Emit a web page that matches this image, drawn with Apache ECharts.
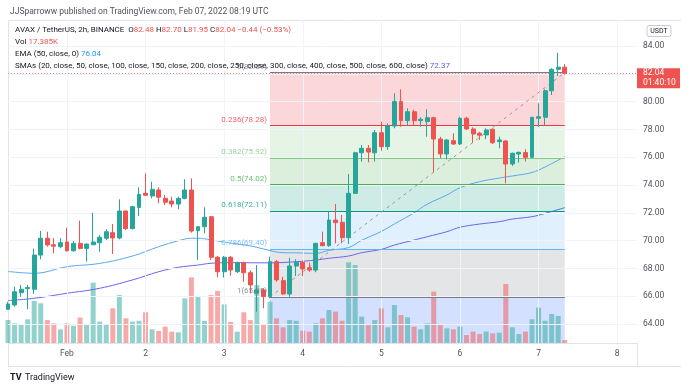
<!DOCTYPE html>
<html><head><meta charset="utf-8">
<script src="https://cdn.jsdelivr.net/npm/echarts@6/dist/echarts.min.js"></script>
<style>html,body{margin:0;padding:0;background:#fff}#c{width:688px;height:388px}</style>
</head><body><div id="c"></div>
<script>
// candle k has index firstIndex + k (2h bars; index 0 = Feb 1 00:00)
const firstIndex = -9;
const opens  = [65.06,65.37,66.25,66.55,66.50,68.96,70.17,69.70,69.56,69.90,69.27,69.80,69.44,69.70,69.85,70.17,70.57,70.19,72.13,70.86,72.39,73.40,73.21,73.64,73.04,72.85,72.63,73.04,73.64,70.71,71.00,71.72,68.80,67.76,68.80,67.76,68.41,67.69,66.21,66.45,65.97,68.48,67.12,66.16,68.17,68.44,68.05,67.88,69.85,69.63,71.48,71.32,70.21,73.40,76.32,76.64,76.32,77.76,76.76,78.24,80.00,78.63,79.27,78.63,78.56,78.84,77.31,76.23,77.19,76.95,78.80,78.03,77.72,77.60,78.01,77.12,77.17,75.51,76.23,76.33,75.99,78.80,78.87,80.78,82.32,82.48];
const highs  = [65.60,66.68,66.81,66.81,69.42,70.69,70.64,70.17,70.17,70.93,69.97,71.43,69.80,72.01,70.40,70.81,71.19,72.97,72.15,72.49,73.83,74.84,74.24,73.83,73.28,73.16,73.16,74.41,74.48,71.05,72.40,71.75,68.89,68.89,68.89,68.48,68.48,67.88,68.24,66.57,68.84,68.60,67.40,68.77,68.65,68.56,68.41,69.85,70.64,72.08,72.63,71.84,74.79,76.40,76.88,76.88,77.96,78.55,78.44,80.60,80.88,79.52,79.41,78.87,79.45,78.91,77.47,77.29,77.72,78.91,78.91,78.15,77.83,78.08,78.08,77.47,77.24,76.33,76.40,76.57,78.91,79.88,80.88,82.40,83.52,82.70];
const lows   = [65.00,65.25,65.96,65.06,66.16,68.65,69.56,69.09,69.44,69.20,69.20,69.37,68.48,69.68,69.20,70.04,69.04,70.09,70.76,70.81,71.77,73.26,73.04,72.68,72.56,72.40,72.25,72.97,70.57,68.60,70.53,68.60,67.36,67.34,67.48,67.68,67.04,66.21,64.88,65.13,65.85,67.04,66.09,65.96,67.45,67.45,67.76,67.72,69.61,69.56,69.80,69.80,69.76,73.35,75.68,75.63,75.68,76.47,76.52,78.08,78.19,78.24,78.24,78.19,77.47,74.92,75.92,75.85,76.88,76.88,77.96,77.04,77.24,77.29,76.95,76.64,74.12,75.37,75.61,75.68,75.92,78.19,78.32,80.47,81.84,81.95];
const closes = [65.44,66.32,66.50,66.62,68.96,70.17,69.69,69.60,69.85,69.27,69.80,69.44,69.75,69.90,70.24,70.64,70.19,72.13,70.86,72.44,73.33,73.26,73.69,73.12,72.76,72.63,73.04,73.64,70.69,71.00,71.68,68.80,67.76,68.80,67.88,68.41,67.69,66.81,66.45,65.97,68.48,67.17,66.16,68.17,68.44,67.96,67.88,69.80,69.63,71.48,71.29,70.21,73.40,76.32,76.64,76.37,77.76,76.76,78.24,80.00,78.63,79.27,78.63,78.73,78.84,77.31,76.23,77.24,76.95,78.80,78.03,77.67,77.58,77.96,77.04,77.24,75.51,76.28,76.35,75.99,78.87,78.91,80.78,82.32,82.48,82.04];
// volume in thousands
const volumes = [133,114,104,137,244,230,133,114,79,114,100,147,104,350,124,110,201,278,143,124,129,178,79,70,95,66,62,259,381,273,129,278,302,224,122,66,178,133,336,104,240,143,91,133,129,71,66,114,143,191,182,129,468,452,153,104,133,201,91,220,162,149,95,79,114,298,104,85,79,95,46,66,52,66,56,60,342,91,52,66,137,205,129,168,157,17.385];
const emaPoints = [[-9,67.78],[-5,67.65],[0,68.12],[5,68.36],[10,68.89],[14,69.56],[17,69.99],[19,70.17],[20,70.17],[22,70.05],[25,69.82],[28,69.62],[30,69.40],[33,69.13],[35,69.12],[38,69.08],[40,69.30],[43,69.50],[45,70.02],[48,70.66],[50,71.20],[53,72.00],[55,72.62],[58,73.28],[60,73.80],[63,74.24],[66,74.50],[68,74.65],[71,74.90],[73,75.30],[76,76.04]];
const smaPoints = [[-9,65.68],[-5,65.85],[0,66.21],[5,66.57],[10,67.17],[14,67.76],[17,68.08],[20,68.24],[22,68.37],[25,68.41],[31,68.40],[35,68.48],[38,68.60],[40,68.73],[43,68.89],[45,69.13],[48,69.37],[50,69.68],[53,70.04],[55,70.28],[58,70.64],[60,70.96],[63,71.19],[66,71.36],[68,71.55],[71,71.72],[73,71.96],[76,72.37]];
const priceTicks = [64,66,68,70,72,74,76,78,80,82,84];
const dayTicks = [0,12,24,36,48,60,72,84];
const dayLabels = ['Feb','2','3','4','5','6','7','8'];
const fibLevels = ['0','0.236','0.382','0.5','0.618','0.786','1','1.618'];
const fibPrices = [82.09,78.28,75.92,74.02,72.11,69.40,65.95,55.98];
const fibColors = ['#787b86','#f23645','#81c784','#4caf50','#089981','#64b5f6','#787b86','#2962ff'];
const fibStart = 31, fibEnd = 76;
const lastPrice = 82.04;
const yMin = 62.633, yMax = 85.871;
const xMin = -9.0, xMax = 87.03;

const UP = '#26a69a', DOWN = '#ef5350';
const candleData = opens.map((o, k) => [firstIndex + k, o, closes[k], lows[k], highs[k]]);
const volData = volumes.map((v, k) => ({
  value: [firstIndex + k, v],
  itemStyle: { color: closes[k] >= opens[k] ? 'rgba(38,166,154,0.5)' : 'rgba(239,83,80,0.5)' }
}));

function hexA(h, a) {
  const n = parseInt(h.slice(1), 16);
  return 'rgba(' + (n >> 16) + ',' + ((n >> 8) & 255) + ',' + (n & 255) + ',' + a + ')';
}
const zones = [];
for (let k = 0; k < fibPrices.length - 1; k++) {
  zones.push([{ coord: [fibStart, fibPrices[k]], itemStyle: { color: hexA(fibColors[k + 1], 0.2) } },
              { coord: [fibEnd, Math.max(fibPrices[k + 1], yMin)] }]);
}
const fibLines = [];
for (let k = 0; k < 7; k++) {
  fibLines.push([{ coord: [fibStart, fibPrices[k]], lineStyle: { color: fibColors[k], width: 1, type: 'solid' } },
                 { coord: [fibEnd, fibPrices[k]] }]);
}
fibLines.push([{ coord: [fibStart, fibPrices[6]], lineStyle: { color: '#9598a1', width: 1, type: [3, 4] } },
               { coord: [fibEnd, fibPrices[0]] }]);
const fibLabelData = [];
for (let k = 0; k < 7; k++) {
  fibLabelData.push({ value: [fibStart, fibPrices[k]], name: fibLevels[k] + '(' + fibPrices[k].toFixed(2) + ')',
    label: { color: fibColors[k] } });
}
const gridLines = dayTicks.map(d => ({ xAxis: d })).concat(priceTicks.map(p => ({ yAxis: p })));

const FONT = 'Roboto, "Noto Sans", sans-serif';
const chart = echarts.init(document.getElementById('c'), null, { renderer: 'canvas' });
const option = {
  animation: false,
  backgroundColor: '#ffffff',
  grid: { left: 8, right: 51, top: 20, bottom: 45 },
  xAxis: [{
    type: 'value', min: xMin, max: xMax,
    axisLine: { show: true, lineStyle: { color: '#e0e3eb' } },
    axisTick: { show: false },
    splitLine: { show: false },
    axisLabel: { customValues: dayTicks, color: '#50535e', fontSize: 8.5, fontFamily: FONT, margin: 6,
      formatter: v => dayLabels[dayTicks.indexOf(v)] }
  }],
  yAxis: [{
    type: 'value', position: 'right', min: yMin, max: yMax,
    axisLine: { show: true, lineStyle: { color: '#e0e3eb' } },
    axisTick: { show: false },
    splitLine: { show: false },
    axisLabel: { customValues: priceTicks, color: '#50535e', fontSize: 8.5, fontFamily: FONT, margin: 6,
      formatter: v => v.toFixed(2) }
  }, {
    type: 'value', min: 0, max: 1873, show: false
  }],
  series: [
    { type: 'line', name: 'grid', data: [], z: 0, silent: true,
      markLine: { silent: true, symbol: 'none', label: { show: false },
        lineStyle: { color: '#f0f3fa', width: 1, type: 'solid' }, data: gridLines } },
    { type: 'scatter', name: 'fibZones', data: [], z: 1, silent: true,
      markArea: { silent: true, data: zones } },
    { type: 'bar', name: 'Volume', yAxisIndex: 1, data: volData, barWidth: 5, z: 2 },
    { type: 'line', name: 'fibLines', data: [], z: 3, silent: true,
      markLine: { silent: true, symbol: 'none', label: { show: false }, data: fibLines } },
    { type: 'line', name: 'EMA', data: emaPoints, smooth: 0.4, showSymbol: false, z: 4,
      lineStyle: { color: '#5aa8f0', width: 1 } },
    { type: 'line', name: 'SMA', data: smaPoints, smooth: 0.4, showSymbol: false, z: 4,
      lineStyle: { color: '#6a64f2', width: 1 } },
    { type: 'line', name: 'priceLine', data: [], z: 4, silent: true, color: '#f08080',
      itemStyle: { color: '#f08080' }, lineStyle: { color: '#f08080' },
      markLine: { silent: true, symbol: 'none', label: { show: false },
        lineStyle: { color: '#f08080', type: [1, 2], width: 1, opacity: 1 },
        data: [{ yAxis: lastPrice }] } },
    { type: 'candlestick', name: 'AVAX', data: candleData, encode: { x: 0, y: [1, 2, 3, 4] }, barWidth: 4.4, z: 5,
      itemStyle: { color: UP, color0: DOWN, borderColor: UP, borderColor0: DOWN, borderWidth: 1 } },
    { type: 'scatter', name: 'fibLabels', data: fibLabelData, symbolSize: 0, z: 6, silent: true,
      label: { show: true, position: 'left', distance: 3, offset: [0, -6], fontSize: 8, fontFamily: FONT,
        formatter: p => p.name } }
  ],
  graphic: []
};
chart.setOption(option);

const py = chart.convertToPixel({ yAxisIndex: 0 }, lastPrice);
chart.setOption({ graphic: [
  { type: 'line', shape: { x1: 8.5, y1: 20, x2: 8.5, y2: 366 }, style: { stroke: '#e0e3eb' } },
  { type: 'line', shape: { x1: 8, y1: 20.5, x2: 681, y2: 20.5 }, style: { stroke: '#e0e3eb' } },
  { type: 'line', shape: { x1: 8, y1: 366.5, x2: 681, y2: 366.5 }, style: { stroke: '#e0e3eb' } },
  { type: 'line', shape: { x1: 637.5, y1: 343, x2: 637.5, y2: 366 }, style: { stroke: '#e0e3eb' } },
  { type: 'text', x: 10, y: 12, style: { text: 'JJSparroww published on TradingView.com, Feb 07, 2022 08:19 UTC',
      fill: '#50535e', font: '8.5px Roboto, sans-serif', verticalAlign: 'middle' } },
  { type: 'text', x: 15, y: 30, z: 100, style: { verticalAlign: 'middle', font: '8px Roboto, sans-serif',
      text: '{d|AVAX / TetherUS, 2h, BINANCE  O}{r|82.48}{d| H}{r|82.70}{d| L}{r|81.95}{d| C}{r|82.04}{r| \u22120.44 (\u22120.53%)}',
      rich: { d: { fill: '#131722', font: '8px Roboto, sans-serif' }, r: { fill: DOWN, font: '8px Roboto, sans-serif' } } } },
  { type: 'text', x: 15, y: 42, z: 100, style: { verticalAlign: 'middle', font: '8px Roboto, sans-serif',
      text: '{d|Vol }{r|17.385K}', rich: { d: { fill: '#131722', font: '8px Roboto, sans-serif' }, r: { fill: DOWN, font: '8px Roboto, sans-serif' } } } },
  { type: 'text', x: 15, y: 54, z: 100, style: { verticalAlign: 'middle', font: '8px Roboto, sans-serif',
      text: '{d|EMA (50, close, 0) }{b|76.04}', rich: { d: { fill: '#131722', font: '8px Roboto, sans-serif' }, b: { fill: '#2196f3', font: '8px Roboto, sans-serif' } } } },
  { type: 'text', x: 15, y: 66, z: 100, style: { verticalAlign: 'middle', font: '8px Roboto, sans-serif',
      text: '{d|SMAs (20, close, 50, close, 100, close, 150, close, 200, close, 250, close, 300, close, 400, close, 500, close, 600, close) }{b|72.37}',
      rich: { d: { fill: '#131722', font: '8px Roboto, sans-serif' }, b: { fill: '#5b5ef5', font: '8px Roboto, sans-serif' } } } },
  { type: 'rect', z: 100, shape: { x: 647, y: 25.5, width: 24, height: 11, r: 2 }, style: { fill: '#fff', stroke: '#c8cbd3', lineWidth: 1 } },
  { type: 'text', z: 101, x: 659, y: 31, style: { text: 'USDT', fill: '#131722', font: '7px Roboto, sans-serif', align: 'center', verticalAlign: 'middle' } },
  { type: 'rect', z: 100, shape: { x: 637, y: py - 5, width: 43, height: 20 }, style: { fill: DOWN } },
  { type: 'text', z: 101, x: 643, y: py, style: { text: '82.04', fill: '#fff', font: '8.5px Roboto, sans-serif', verticalAlign: 'middle' } },
  { type: 'text', z: 101, x: 643, y: py + 10, style: { text: '01:40:10', fill: '#fff', font: '8.5px Roboto, sans-serif', verticalAlign: 'middle' } },
  { type: 'text', x: 10, y: 378, style: { text: 'TV', fill: '#131722', font: 'bold 9px Roboto, sans-serif', verticalAlign: 'middle' } },
  { type: 'text', x: 25, y: 378, style: { text: 'TradingView', fill: '#131722', font: '9px Roboto, sans-serif', verticalAlign: 'middle' } }
] });
</script>
</body></html>
